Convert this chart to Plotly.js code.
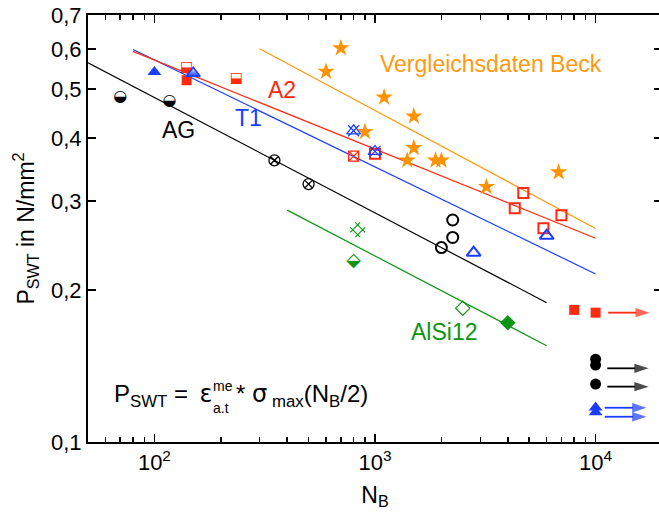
<!DOCTYPE html>
<html><head><meta charset="utf-8">
<script src="https://cdn.plot.ly/plotly-3.0.1.min.js"></script>
<style>html,body{margin:0;padding:0;overflow:hidden;background:#fff}#plot{width:662px;height:520px}</style>
</head><body><div id="plot"></div>
<script>
// ---------------- data ----------------
const xTickVals = [100, 1000, 10000];
const xTickText = ['10<sup>2</sup>', '10<sup>3</sup>', '10<sup>4</sup>'];
const xMinorVals = [60, 70, 80, 90, 200, 300, 400, 500, 600, 700, 800, 900, 2000, 3000, 4000, 5000, 6000, 7000, 8000, 9000];
const yTickVals = [0.1, 0.2, 0.3, 0.4, 0.5, 0.6, 0.7];
const yTickText = ['0,1', '0,2', '0,3', '0,4', '0,5', '0,6', '0,7'];

// AG
const agHalfN = [70, 117];
const agHalfP = [0.482, 0.472];
const agCrossN = [350, 500];
const agCrossP = [0.361, 0.324];
const agOpenN = [2250, 2250, 2000];
const agOpenP = [0.275, 0.254, 0.2425];
const agRunN = [10000, 10000, 10000];
const agRunP = [0.1458, 0.1420, 0.1302];
const agFitN = [50, 6000];
const agFitP = [0.563, 0.1887];

// T1
const t1FillN = [100];
const t1FillP = [0.54];
const t1HalfN = [150];
const t1HalfP = [0.537];
const t1CrossN = [800, 1000];
const t1CrossP = [0.413, 0.376];
const t1OpenN = [2800, 6000];
const t1OpenP = [0.237, 0.256];
const t1RunN = [10000, 10000];
const t1RunP = [0.117, 0.1145];
const t1FitN = [80, 10000];
const t1FitP = [0.598, 0.2151];

// A2
const a2HalfN = [140, 235];
const a2HalfP = [0.55, 0.523];
const a2FillN = [140];
const a2FillP = [0.52];
const a2CrossN = [800];
const a2CrossP = [0.368];
const a2OpenN = [1000, 4700, 4300, 7000, 5800];
const a2OpenP = [0.372, 0.311, 0.290, 0.281, 0.265];
const a2RunN = [8000, 10000];
const a2RunP = [0.1826, 0.1803];
const a2FitN = [80, 10000];
const a2FitP = [0.593, 0.2531];

// AlSi12
const alCrossN = [835];
const alCrossP = [0.263];
const alHalfN = [800];
const alHalfP = [0.2275];
const alOpenN = [2500];
const alOpenP = [0.184];
const alFillN = [4000];
const alFillP = [0.1722];
const alFitN = [400, 6000];
const alFitP = [0.2877, 0.1551];

// Vergleichsdaten Beck
const beckN = [600, 700, 1100, 900, 1500, 1500, 1400, 1880, 2000, 3200, 6800];
const beckP = [0.541, 0.602, 0.481, 0.411, 0.441, 0.382, 0.361, 0.361, 0.361, 0.320, 0.342];
const beckFitN = [300, 10000];
const beckFitP = [0.600, 0.2645];

// run-out arrows (from N, to N, level P)
const arrowRedN = [11400, 17600];
const arrowRedP = [0.1803];
const arrowBlackN = [11300, 17400];
const arrowBlackP = [0.1399, 0.1287];
const arrowBlueN = [11000, 17000];
const arrowBlueP = [0.1169, 0.1122];

// ---------------- styles ----------------
const BLACK = '#000000';
const RED = '#ff2a10';
const BLUE = '#1a3cff';
const GREEN = '#0e9414';
const ORANGE = '#ff9a10';
const STAR = '#ff9200';

const traces = [];
function line(x, y, c) {
  traces.push({x: x, y: y, mode: 'lines', line: {color: c, width: 1.2}, hoverinfo: 'skip'});
}
function mk(x, y, sym, c, size, lw, extra) {
  const t = {x: x, y: y, mode: 'markers',
    marker: Object.assign({symbol: sym, color: c, size: size, line: {color: c, width: lw}}, extra || {})};
  traces.push(t);
}
function glyph(x, y, ch, c, size) {
  traces.push({x: x, y: y, mode: 'text', text: x.map(() => ch), textposition: 'middle center',
    textfont: {family: 'DejaVu Sans', size: size, color: c}, hoverinfo: 'skip'});
}
function arrows(n, ps, c) {
  ps.forEach(p => {
    traces.push({x: [n[0], n[1]], y: [p, p], mode: 'lines+markers',
      line: {color: c, width: 1.8},
      marker: {symbol: 'arrow', angleref: 'previous', size: [0, 15], color: c, line: {width: 0}}, hoverinfo: 'skip'});
  });
}

// fits
line(agFitN, agFitP, BLACK);
line(t1FitN, t1FitP, BLUE);
line(a2FitN, a2FitP, RED);
line(alFitN, alFitP, GREEN);
line(beckFitN, beckFitP, ORANGE);

// Beck stars
mk(beckN, beckP, 'star', STAR, 13, 0);

// AG
glyph(agHalfN, agHalfP, '\u25D2', BLACK, 16);
mk(agCrossN, agCrossP, 'circle-x-open', BLACK, 11, 1.3);
mk(agOpenN, agOpenP, 'circle-open', BLACK, 11, 2);
mk(agRunN, agRunP, 'circle', BLACK, 11, 0);

// A2
glyph(a2HalfN, a2HalfP, '\u2B13', RED, 14);
mk(a2FillN, a2FillP, 'square', RED, 10, 0);
mk(a2CrossN, a2CrossP, 'square-x-open', RED, 10, 1.3);
mk(a2OpenN, a2OpenP, 'square-open', RED, 10, 2);
mk(a2RunN, a2RunP, 'square', RED, 10, 0);

// T1
mk(t1FillN, t1FillP, 'triangle-up', BLUE, 12, 0);
mk(t1HalfN, t1HalfP, 'triangle-up', 'white', 12, 1.5, {line: {color: BLUE, width: 1.5}, gradient: {type: 'vertical', color: BLUE}});
mk(t1CrossN, t1CrossP, 'triangle-up-open', BLUE, 12, 1.2);
mk(t1CrossN, t1CrossP, 'x-thin-open', BLUE, 11, 1.2);
mk(t1OpenN, t1OpenP, 'triangle-up-open', BLUE, 12, 2);
mk(t1RunN, t1RunP, 'triangle-up', BLUE, 12, 0);

// AlSi12
mk(alCrossN, alCrossP, 'hash-open', GREEN, 14, 1.1, {angle: 45});
glyph(alHalfN, alHalfP, '\u2B19', GREEN, 19);
mk(alOpenN, alOpenP, 'diamond-open', GREEN, 11, 1.2);
mk(alFillN, alFillP, 'diamond', GREEN, 12, 0);

// run-out arrows
arrows(arrowRedN, arrowRedP, RED);
arrows(arrowBlackN, arrowBlackP, BLACK);
arrows(arrowBlueN, arrowBlueP, BLUE);

const L = Math.log10;
const FAM = 'Liberation Sans, Arial, sans-serif';
const annFont = {family: FAM, size: 23};
function lab(text, n, p, c) {
  return {text: text, x: L(n), y: L(p), xref: 'x', yref: 'y', showarrow: false,
    xanchor: 'center', yanchor: 'middle', font: Object.assign({}, annFont, {color: c})};
}
function ptxt(text, x, y, size) {
  return {text: text, xref: 'paper', yref: 'paper', x: x, y: y, xanchor: 'left', yanchor: 'middle',
    showarrow: false, font: {family: FAM, size: size, color: BLACK}};
}
const GK = '<span style="font-family:DejaVu Sans">';

const layout = {
  width: 662, height: 520,
  margin: {l: 88, r: 0, t: 15, b: 78, pad: 0},
  paper_bgcolor: 'white', plot_bgcolor: 'white',
  showlegend: false,
  font: {family: FAM, size: 22, color: 'black'},
  xaxis: {
    type: 'log', range: [L(50), L(20000)],
    tickmode: 'array', tickvals: xTickVals, ticktext: xTickText,
    ticks: 'inside', ticklen: 8, tickwidth: 1.5, tickcolor: 'black',
    showline: true, linewidth: 2, linecolor: 'black', mirror: 'ticks',
    showgrid: false, zeroline: false,
    minor: {tickmode: 'array', tickvals: xMinorVals, ticks: 'inside', ticklen: 5, tickwidth: 1.5, tickcolor: 'black', showgrid: false},
    tickfont: {size: 22},
    title: {text: 'N<sub>B</sub>', font: {size: 23}, standoff: 12}
  },
  yaxis: {
    type: 'log', range: [-1, L(0.7)],
    tickmode: 'array', tickvals: yTickVals, ticktext: yTickText,
    ticks: 'inside', ticklen: 8, tickwidth: 1.5, tickcolor: 'black',
    showline: true, linewidth: 2, linecolor: 'black', mirror: 'ticks',
    showgrid: false, zeroline: false,
    tickfont: {size: 22},
    title: {text: 'P<sub>SWT</sub> in N/mm<sup>2</sup>', font: {size: 23}, standoff: 10}
  },
  annotations: [
    lab('AG', 128.5, 0.414, BLACK),
    lab('T1', 267, 0.4375, BLUE),
    lab('A2', 380, 0.4977, RED),
    lab('AlSi12', 2045, 0.1654, GREEN),
    lab('Vergleichsdaten Beck', 3350, 0.561, ORANGE),
    ptxt('P<sub>SWT</sub> = \u2009' + GK + '\u03B5</span>', 0.041, 0.11, 24),
    ptxt('a.t', 0.2143, 0.0796, 14),
    ptxt('me', 0.2143, 0.131, 14),
    ptxt('* ' + GK + '\u03C3</span>\u2009<sub>max</sub>(N<sub>B</sub>/2)', 0.2544, 0.11, 24)
  ]
};

Plotly.newPlot('plot', traces, layout, {staticPlot: true, displayModeBar: false});
</script>
</body></html>
